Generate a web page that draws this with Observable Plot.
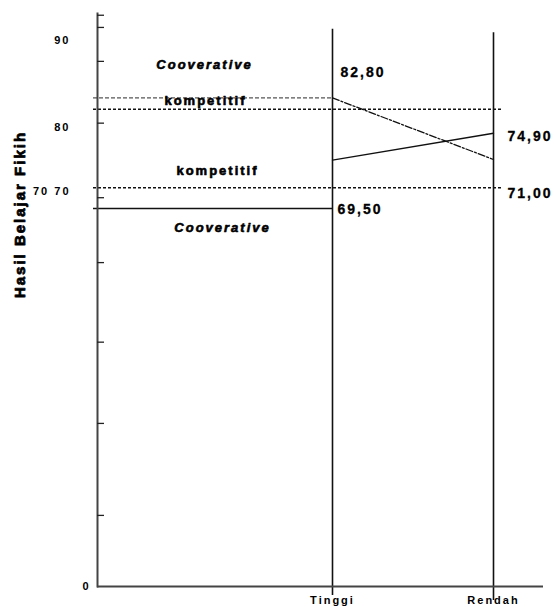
<!DOCTYPE html>
<html><head><meta charset="utf-8">
<script src="https://cdn.jsdelivr.net/npm/d3@7"></script>
<script src="https://cdn.jsdelivr.net/npm/@observablehq/plot@0.6"></script>
<style>
body{margin:0;background:#fff}
svg text{letter-spacing:2px}
</style></head><body><div id="chart"></div>
<script>
// categories (x)
const levels = ["Tinggi", "Rendah"];
// interaction lines
const cooperativeValues = [83.4, 75.0];
const kompetitifValues = [74.9, 79.1];
// horizontal reference lines
const refValues = [83.4, 82.1, 70.6, 67.0];
const refEnds = ["Tinggi", "Rendah", "Rendah", "Tinggi"];
// value labels
const valueLabels = ["82,80", "74,90", "71,00", "69,50"];
const valueLabelLevels = ["Tinggi", "Rendah", "Rendah", "Tinggi"];
const valueLabelY = [86.3, 78.6, 69.6, 66.8];
// series labels
const seriesLabels = ["Cooverative", "kompetitif", "kompetitif", "Cooverative"];
const seriesLabelY = [87.2, 83.1, 73.3, 63.6];
// y axis
const yTickLabels = [90, 80, 70];
const yTickMarks = [92.9, 91.5, 87.6, 80.5, 68.9, 57.4, 43.3, 28.9, 12.6];
const yTitle = "Hasil Belajar Fikih";

const coop = levels.map((l, i) => ({level: l, value: cooperativeValues[i]}));
const komp = levels.map((l, i) => ({level: l, value: kompetitifValues[i]}));
const refs = refValues.map((v, i) => ({value: v, end: refEnds[i]}));
const vlabels = valueLabels.map((t, i) => ({text: t, level: valueLabelLevels[i], value: valueLabelY[i]}));
const slabels = seriesLabels.map((t, i) => ({text: t, level: "Tinggi", value: seriesLabelY[i]}));

const xOptions = {type: "point", domain: levels, padding: 0.885, align: 0.8246, range: [97, 543], axis: null};
const xScale = Plot.scale({x: xOptions});
const xRight = xOptions.range[1];

const refStyles = [
  {strokeDasharray: "4,2", strokeWidth: 0.9, extend: 0},
  {strokeDasharray: "3,2", strokeWidth: 1.5, extend: 9},
  {strokeDasharray: "3,2", strokeWidth: 1.5, extend: 10},
  {strokeDasharray: null, strokeWidth: 1.4, extend: 0}
];
const vlDx = [8, 14, 14, 5];
const slDx = [-128, -127, -115, -110];
const slStyle = ["italic", "normal", "normal", "italic"];

const marks = [
  // reference lines (from the y axis to a level)
  ...refs.map((r, i) => Plot.ruleY([r], {y: "value", insetLeft: -4,
    insetRight: xRight - xScale.apply(r.end) - refStyles[i].extend,
    stroke: "#111", strokeWidth: refStyles[i].strokeWidth, strokeDasharray: refStyles[i].strokeDasharray})),
  // level verticals
  Plot.ruleX([levels[0]], {x: d => d, y1: () => 91.3, y2: () => -1.6, stroke: "#111", strokeWidth: 1.6}),
  Plot.ruleX([levels[1]], {x: d => d, y1: () => 90.9, y2: () => -2.5, stroke: "#111", strokeWidth: 1.6}),
  // interaction lines
  Plot.line(coop, {x: "level", y: "value", stroke: "#111", strokeWidth: 1.3, strokeDasharray: "7,2,2,2"}),
  Plot.line(komp, {x: "level", y: "value", stroke: "#111", strokeWidth: 1.3}),
  // axes lines
  Plot.ruleY([0], {stroke: "#444", strokeWidth: 2}),
  Plot.frame({anchor: "left", stroke: "#444", strokeWidth: 2}),
  // tick marks pointing inward
  Plot.axisY({ticks: yTickMarks, tickFormat: () => "", tickSize: 7, dx: 7, stroke: "#222", strokeWidth: 1.3, label: null}),
  // tick labels
  Plot.axisY({ticks: yTickLabels, tickFormat: d => d === 70 ? "70 70" : String(d), tickSize: 0, tickPadding: 27, fontSize: 11, fontWeight: "bold", fill: "#000", label: null}),
  Plot.axisY({ticks: [0], tickFormat: d => String(d), tickSize: 0, tickPadding: 7, fontSize: 11, fontWeight: "bold", fill: "#000", label: null}),
  Plot.axisX({ticks: levels, tickSize: 0, tickPadding: 10, fontSize: 11, fontWeight: "bold", fill: "#000", label: null}),
  // value labels
  ...vlabels.map((d, i) => Plot.text([d], {x: "level", y: "value", text: "text", dx: vlDx[i], textAnchor: "start", fontSize: 14, fontWeight: "bold", fill: "#000", stroke: "#000", strokeWidth: 0.3})),
  // series labels
  ...slabels.map((d, i) => Plot.text([d], {x: "level", y: "value", text: "text", dx: slDx[i], textAnchor: "middle", fontSize: 13, fontWeight: "bold", fontStyle: slStyle[i], fill: "#000", stroke: "#000", strokeWidth: 0.6})),
  // y title
  Plot.text([yTitle], {frameAnchor: "top-left", dx: -83, dy: 201, rotate: -90, textAnchor: "middle", fontSize: 15, fontWeight: "bold", fill: "#000", stroke: "#000", strokeWidth: 0.8})
];

const chart = Plot.plot({
  width: 554,
  height: 610,
  marginTop: 13,
  marginBottom: 24,
  marginLeft: 97,
  marginRight: 11,
  style: {fontFamily: "'Liberation Sans', Arial, sans-serif", background: "#fff", color: "#000"},
  x: xOptions,
  y: {type: "linear", domain: [0, 70, 80, 90, 93.1], range: [586, 191, 127, 40, 13], axis: null},
  marks
});
document.getElementById("chart").appendChild(chart);
</script></body></html>
